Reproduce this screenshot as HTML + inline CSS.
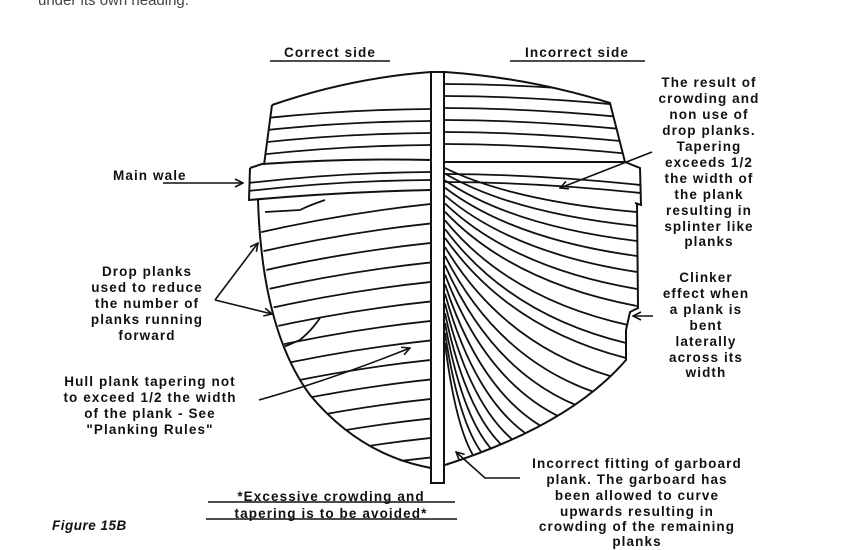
<!DOCTYPE html>
<html><head><meta charset="utf-8"><style>
html,body{margin:0;padding:0;background:#fff;width:847px;height:550px;overflow:hidden}
svg text{font-family:"Liberation Sans",Arial,sans-serif;font-weight:bold;font-size:13.5px;letter-spacing:1.1px;fill:#111}
</style></head><body>
<svg width="847" height="550" viewBox="0 0 847 550" xmlns="http://www.w3.org/2000/svg">
<defs>
<clipPath id="lc"><path d="M272,105 Q350,78 431,72 L431,470 Q360,455 310,395 Q270,345 258,200 L250,200 L250,168 L264,165 Z"/></clipPath>
<clipPath id="rc"><path d="M445,72 Q530,78 610,103 L625,165 L640,170 L640,200 L637,203 L638,308 L630,330 L625,360 Q570,425 445,465 Z"/></clipPath>
<marker id="ah" markerWidth="10" markerHeight="10" refX="9" refY="5" orient="auto" markerUnits="userSpaceOnUse"><path d="M1,1 L9,5 L1,9" fill="none" stroke="#111" stroke-width="1.6"/></marker>
</defs>
<text x="38" y="5" style="font-weight:normal;fill:#444;font-size:15px;letter-spacing:0">under its own heading.</text>
<g fill="none" stroke="#111" stroke-width="1.8" clip-path="url(#lc)">
<path d="M240,121 Q340,109 440,109"/><path d="M240,133 Q340,121 440,121"/><path d="M240,145 Q340,133 440,133"/><path d="M240,157 Q340,145 440,145"/><path d="M240,184 Q340,172 440,172"/><path d="M240,192 Q340,180 440,180"/>
<path d="M240,237 Q340,213 440,203"/><path d="M240,256.5 Q340,232.5 440,222.5"/><path d="M240,276 Q340,252 440,242"/><path d="M240,295.5 Q340,271.5 440,261.5"/><path d="M240,315 Q340,291 440,281"/><path d="M240,334.5 Q340,310.5 440,300.5"/><path d="M240,354 Q340,330 440,320"/><path d="M240,373.5 Q340,349.5 440,339.5"/><path d="M240,393 Q340,369 440,359"/><path d="M240,412.5 Q340,388.5 440,378.5"/><path d="M240,432 Q340,408 440,398"/><path d="M240,451.5 Q340,427.5 440,417.5"/><path d="M240,471 Q340,447 440,437"/><path d="M240,490.5 Q340,466.5 440,456.5"/>
<path d="M265,212 L300,210 Q310,205 325,200"/><path d="M265,355 L300,340 Q312,330 320,318"/>
</g>
<g fill="none" stroke="#111" stroke-width="1.8" clip-path="url(#rc)">
<path d="M440,84 Q540,84 650,96"/><path d="M440,96 Q540,96 650,108"/><path d="M440,108 Q540,108 650,120"/><path d="M440,120 Q540,120 650,132"/><path d="M440,132 Q540,132 650,144"/><path d="M440,144 Q540,144 650,156"/><path d="M440,174 Q540,174 650,186"/><path d="M440,182 Q540,182 650,194"/>
<path d="M445,168 Q512.2,201 637,212"/><path d="M445,173.6 Q512.2,212.9 637,226"/><path d="M445,180.4 Q512.2,225.9 637,241"/><path d="M445,187.7 Q512.2,238.9 637,256"/><path d="M445,195.5 Q512.2,252.9 637,272"/><path d="M445,203.5 Q512.2,267.6 637,289"/><path d="M445,211.8 Q512.2,282.5 637,306"/><path d="M445,220.3 Q509,298.8 628,325"/><path d="M445,229 Q508.4,314.5 626,343"/><path d="M445,237.9 Q508.4,328 626,358"/><path d="M445,246.9 Q502.8,343.7 610,376"/><path d="M445,256 Q497.2,358 594,392"/><path d="M445,265.3 Q491.6,370.8 578,406"/><path d="M445,274.6 Q486,382.2 562,418"/><path d="M445,284.2 Q480.4,392.8 546,429"/><path d="M445,293.7 Q475.1,401.2 531,437"/><path d="M445,303.4 Q470.6,408.9 518,444"/><path d="M445,313.2 Q466.4,415.1 506,449"/><path d="M445,323 Q462.5,420.5 495,453"/><path d="M445,333 Q459,426 485,457"/><path d="M445,343 Q455.9,430.8 476,460"/>
</g>
<g fill="none" stroke="#111" stroke-width="2">
<path d="M272,105 Q350,78 431,72"/>
<path d="M272,105 L264,165"/>
<path d="M250,168 L262,164 Q350,158 431,160"/>
<path d="M250,168 L249,200 Q340,192 431,190"/>
<path d="M258,200 Q262,330 310,395 Q360,455 431,468"/>
<path d="M445,72 Q530,78 610,103 L625,162"/>
<path d="M445,162 Q540,162 625,162 L640,168 L641,205 L635,203"/>
<path d="M637,203 L638,308 L630,312 L626,330 L626,360 Q570,425 445,465"/>
<rect x="431" y="72" width="13" height="411" fill="#fff"/>
</g>
<text x="330" y="57" text-anchor="middle">Correct side</text>
<line x1="270" y1="61" x2="390" y2="61" stroke="#111" stroke-width="1.5"/>
<text x="577" y="57" text-anchor="middle">Incorrect side</text>
<line x1="510" y1="61" x2="645" y2="61" stroke="#111" stroke-width="1.5"/>
<g text-anchor="middle">
<text x="709" y="87">The result of</text><text x="709" y="103">crowding and</text><text x="709" y="119">non use of</text><text x="709" y="135">drop planks.</text><text x="709" y="151">Tapering</text><text x="709" y="167">exceeds 1/2</text><text x="709" y="183">the width of</text><text x="709" y="199">the plank</text><text x="709" y="215">resulting in</text><text x="709" y="231">splinter like</text><text x="709" y="246">planks</text>
<text x="147" y="276">Drop planks</text><text x="147" y="292">used to reduce</text><text x="147" y="308">the number of</text><text x="147" y="324">planks running</text><text x="147" y="340">forward</text>
<text x="706" y="282">Clinker</text><text x="706" y="298">effect when</text><text x="706" y="314">a plank is</text><text x="706" y="330">bent</text><text x="706" y="346">laterally</text><text x="706" y="362">across its</text><text x="706" y="377">width</text>
<text x="150" y="386">Hull plank tapering not</text><text x="150" y="402">to exceed 1/2 the width</text><text x="150" y="418">of the plank - See</text><text x="150" y="434">"Planking Rules"</text>
<text x="331" y="501">*Excessive crowding and</text><text x="331" y="518">tapering is to be avoided*</text>
<text x="637" y="468">Incorrect fitting of garboard</text><text x="637" y="484">plank. The garboard has</text><text x="637" y="500">been allowed to curve</text><text x="637" y="516">upwards resulting in</text><text x="637" y="531">crowding of the remaining</text><text x="637" y="546">planks</text>
</g>
<text x="113" y="180">Main wale</text>
<text x="52" y="530" style="font-style:italic;letter-spacing:0.5px">Figure 15B</text>
<g fill="none" stroke="#111" stroke-width="1.6">
<line x1="208" y1="502" x2="455" y2="502"/><line x1="206" y1="519" x2="457" y2="519"/>
<path d="M163,183 L243,183" marker-end="url(#ah)"/>
<path d="M215,300 L258,243" marker-end="url(#ah)"/>
<path d="M215,300 L272,314" marker-end="url(#ah)"/>
<path d="M259,400 Q330,380 410,348" marker-end="url(#ah)"/>
<path d="M652,152 L560,188" marker-end="url(#ah)"/>
<path d="M653,316 L633,316" marker-end="url(#ah)"/>
<path d="M520,478 L485,478 L456,452" marker-end="url(#ah)"/>
</g>
</svg>
</body></html>
